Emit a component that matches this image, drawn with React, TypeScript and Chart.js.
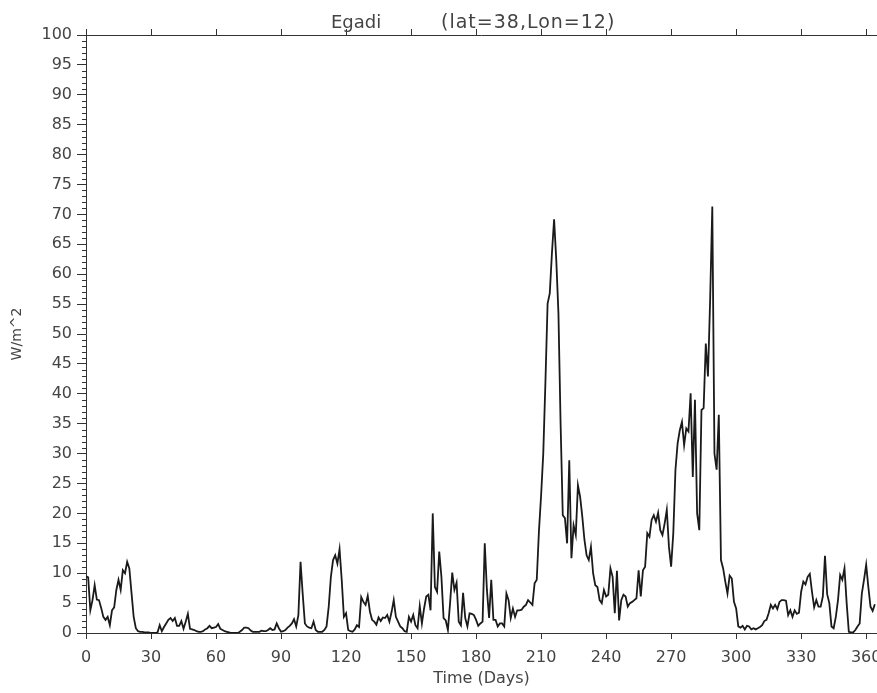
import React, { useEffect, useRef } from 'react';
import { Chart, registerables } from 'chart.js';

Chart.register(...registerables);

const TITLE_NAME = 'Egadi';
const TITLE_COORDS = '(lat=38,Lon=12)';
const X_TITLE = 'Time (Days)';
const Y_TITLE = 'W/m^2';

const X_TICKS = [0, 30, 60, 90, 120, 150, 180, 210, 240, 270, 300, 330, 360];
const Y_TICKS = [0, 5, 10, 15, 20, 25, 30, 35, 40, 45, 50, 55, 60, 65, 70, 75, 80, 85, 90, 95, 100];

// daily values, day 0 .. 364
const fluxValues = [
  9.5, 9.3, 3.8, 5.5, 8.0, 5.6, 5.5, 4.2, 2.7, 2.2,
  2.7, 1.3, 3.8, 4.3, 7.2, 8.9, 7.2, 10.5, 10.0, 11.9,
  10.8, 6.7, 2.7, 0.8, 0.3, 0.2, 0.2, 0.1, 0.1, 0.1,
  0.0, 0.0, 0.0, 0.1, 1.3, 0.3, 1.0, 1.6, 2.2, 2.5,
  2.0, 2.5, 1.2, 1.2, 2.0, 0.7, 1.9, 3.2, 0.7, 0.6,
  0.5, 0.3, 0.2, 0.2, 0.3, 0.6, 0.8, 1.2, 0.8, 0.9,
  1.0, 1.5, 0.7, 0.5, 0.3, 0.2, 0.1, 0.0, 0.0, 0.0,
  0.0, 0.2, 0.5, 0.9, 0.9, 0.8, 0.4, 0.2, 0.2, 0.2,
  0.2, 0.4, 0.3, 0.3, 0.5, 0.8, 0.5, 0.6, 1.6, 0.8,
  0.2, 0.3, 0.5, 0.9, 1.2, 1.6, 2.3, 1.1, 3.0, 11.9,
  6.5, 1.6, 1.1, 0.9, 0.8, 1.9, 0.5, 0.2, 0.2, 0.2,
  0.5, 1.1, 4.4, 9.4, 12.2, 13.0, 11.6, 14.0, 8.9, 2.7,
  3.3, 0.5, 0.3, 0.2, 0.6, 1.3, 1.0, 6.0, 5.2, 4.7,
  6.2, 3.6, 2.2, 1.9, 1.4, 2.6, 2.0, 2.6, 2.5, 3.0,
  1.9, 3.5, 5.5, 2.7, 1.9, 1.1, 0.8, 0.3, 0.2, 2.7,
  1.9, 3.0, 1.3, 0.8, 4.5, 1.6, 4.1, 6.1, 6.4, 3.8,
  20.0, 7.7, 6.9, 13.6, 9.4, 2.5, 2.1, 0.5, 5.0, 10.1,
  7.2, 8.4, 1.9, 1.3, 6.7, 2.5, 1.1, 3.3, 3.2, 3.0,
  2.2, 1.2, 1.6, 1.9, 15.0, 7.2, 2.5, 8.9, 2.2, 2.2,
  1.1, 1.6, 1.6, 1.1, 6.6, 5.5, 2.5, 4.1, 2.7, 3.8,
  3.8, 3.9, 4.4, 4.7, 5.5, 5.1, 4.7, 8.3, 8.9, 17.0,
  23.0, 30.0, 42.0, 55.1, 56.8, 63.5, 69.2, 62.4, 53.5, 35.0,
  19.7, 19.2, 15.0, 28.9, 12.5, 18.0, 16.4, 24.7, 22.8, 19.5,
  15.6, 13.0, 12.2, 14.4, 10.0, 8.0, 7.7, 5.5, 5.0, 7.2,
  6.1, 6.4, 10.8, 9.4, 3.3, 10.4, 2.1, 5.5, 6.4, 6.1,
  4.4, 5.0, 5.2, 5.5, 5.8, 10.5, 6.1, 10.5, 11.1, 16.7,
  16.1, 18.9, 19.7, 18.6, 20.1, 17.2, 16.4, 18.3, 20.6, 14.4,
  11.1, 16.7, 27.3, 31.7, 33.9, 35.3, 31.4, 34.2, 33.7, 40.1,
  26.1, 39.0, 20.0, 17.2, 37.3, 37.6, 48.4, 42.9, 55.7, 71.3,
  30.0, 27.3, 36.5, 12.2, 10.8, 8.6, 6.6, 9.6, 9.1, 5.2,
  4.1, 1.1, 0.9, 1.2, 0.6, 1.2, 1.1, 0.6, 0.8, 0.6,
  0.8, 1.0, 1.3, 2.0, 2.2, 3.3, 4.7, 4.1, 4.7, 4.0,
  5.2, 5.5, 5.5, 5.4, 3.0, 3.8, 2.7, 3.8, 3.2, 3.4,
  6.9, 8.6, 8.1, 9.4, 9.9, 6.9, 4.3, 5.5, 4.4, 4.4,
  6.1, 12.9, 6.5, 5.0, 1.1, 0.8, 2.7, 5.5, 9.7, 8.9,
  10.8, 5.0, 0.2, 0.1, 0.1, 0.5, 1.1, 1.6, 6.6, 8.9,
  11.4, 7.7, 4.4, 3.7, 4.8,
];

const FONT = 'DejaVu Sans';
const TEXT = '#444';
const AXIS = '#333';
const CANVAS_W = 920;
const CANVAS_H = 693;

export default function App() {
  const ref = useRef<HTMLCanvasElement>(null);

  useEffect(() => {
    const canvas = ref.current;
    if (!canvas) return;

    const framePlugin = {
      id: 'frame',
      afterDraw(chart: any) {
        const { ctx, chartArea } = chart;
        const { left, right, top } = chartArea;
        const xs = chart.scales.x;
        const ys = chart.scales.y;
        ctx.save();
        ctx.strokeStyle = AXIS;
        ctx.lineWidth = 1;
        ctx.beginPath();
        ctx.moveTo(left, top + 0.5);
        ctx.lineTo(right, top + 0.5);
        xs.ticks.forEach((t: any) => {
          const px = Math.round(xs.getPixelForValue(t.value)) + 0.5;
          ctx.moveTo(px, top);
          ctx.lineTo(px, top - 6);
        });
        for (let v = ys.min; v <= ys.max; v++) {
          if (Y_TICKS.indexOf(v) >= 0) continue;
          const py = Math.round(ys.getPixelForValue(v)) + 0.5;
          ctx.moveTo(left, py);
          ctx.lineTo(left - 4, py);
        }
        ctx.stroke();
        ctx.fillStyle = TEXT;
        ctx.textAlign = 'left';
        ctx.textBaseline = 'alphabetic';
        ctx.font = `18px "${FONT}"`;
        ctx.fillText(TITLE_NAME, 331, 28);
        ctx.font = `19px "${FONT}"`;
        (ctx as any).letterSpacing = '1px';
        ctx.fillText(TITLE_COORDS, 441, 28);
        (ctx as any).letterSpacing = '0px';
        ctx.restore();
      },
    };

    const chart = new Chart(canvas, {
      type: 'line',
      data: {
        datasets: [
          {
            data: fluxValues.map((v, i) => ({ x: i, y: v })),
            borderColor: '#1a1a1a',
            borderWidth: 1.8,
            pointRadius: 0,
            tension: 0,
            fill: false,
          },
        ],
      },
      options: {
        responsive: false,
        animation: false,
        layout: { padding: { top: 35, right: CANVAS_W - 877, bottom: 0, left: 0 } },
        plugins: {
          legend: { display: false },
          title: { display: false },
          tooltip: { enabled: false },
        },
        scales: {
          x: {
            type: 'linear',
            min: 0,
            max: 365,
            afterBuildTicks: (s: any) => {
              s.ticks = X_TICKS.map((v) => ({ value: v }));
            },
            afterFit: (s: any) => {
              s.height = 60;
            },
            ticks: {
              font: { family: FONT, size: 16 },
              color: TEXT,
              padding: 9,
              maxRotation: 0,
              autoSkip: false,
            },
            grid: {
              drawOnChartArea: false,
              drawTicks: true,
              tickLength: 6,
              tickColor: AXIS,
              color: AXIS,
            },
            border: { display: true, color: AXIS, width: 1 },
            title: {
              display: true,
              text: X_TITLE,
              font: { family: FONT, size: 16 },
              color: TEXT,
              padding: { top: 0, bottom: 5 },
            },
          },
          y: {
            type: 'linear',
            min: 0,
            max: 100,
            afterBuildTicks: (s: any) => {
              s.ticks = Y_TICKS.map((v) => ({ value: v }));
            },
            afterFit: (s: any) => {
              s.width = 86;
            },
            ticks: {
              font: { family: FONT, size: 16 },
              color: TEXT,
              padding: 5,
              autoSkip: false,
            },
            grid: {
              drawOnChartArea: false,
              drawTicks: true,
              tickLength: 9,
              tickColor: AXIS,
              color: AXIS,
            },
            border: { display: true, color: AXIS, width: 1 },
            title: {
              display: true,
              text: Y_TITLE,
              font: { family: FONT, size: 14 },
              color: TEXT,
              padding: { top: 9, bottom: 0 },
            },
          },
        },
      },
      plugins: [framePlugin],
    });

    return () => chart.destroy();
  }, []);

  return (
    <div
      style={{
        position: 'fixed',
        left: 0,
        top: 0,
        width: 877,
        height: 693,
        overflow: 'hidden',
        background: '#fff',
      }}
    >
      <canvas
        ref={ref}
        width={CANVAS_W}
        height={CANVAS_H}
        style={{ display: 'block', width: CANVAS_W, height: CANVAS_H }}
      />
    </div>
  );
}
